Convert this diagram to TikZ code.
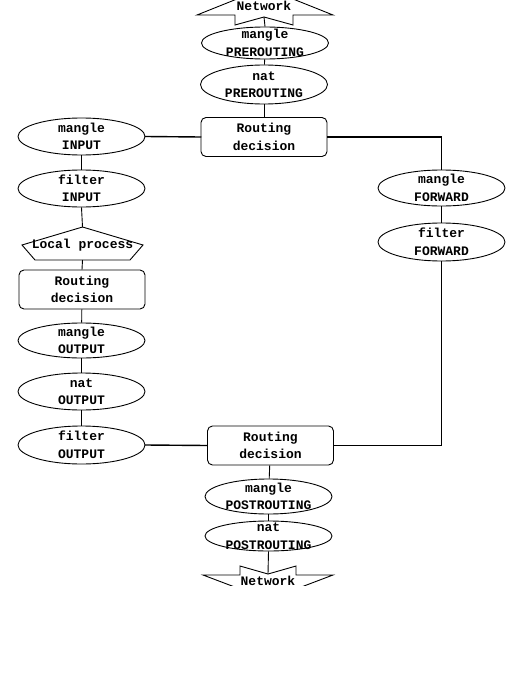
\documentclass[tikz,border=0pt]{standalone}
\usepackage{fontspec}
\setmonofont{Liberation Mono}
\usetikzlibrary{shapes.geometric}
\begin{document}
\begin{tikzpicture}[x=1pt,y=-1pt,
  font=\ttfamily\bfseries\fontsize{13}{17.5}\selectfont,
  ell/.style={draw, ellipse, inner sep=0pt, line width=0.9pt, minimum width=127pt},
  rbox/.style={draw, rounded corners=5pt, minimum width=126pt, minimum height=39pt,
               align=center, inner sep=1pt, line width=0.9pt},
  txt/.style={inner sep=0pt, align=center},
  conn/.style={line width=0.9pt},
  hconn/.style={line width=1.4pt, line cap=rect}]
\useasboundingbox (0,0) rectangle (525,685);
\begin{scope}
\clip (0,0) rectangle (525,585);

% ---- top network
\draw[conn] (237,-1) -- (197,15) -- (235,15) -- (235,25) -- (264,17) -- (293,25) -- (293,15) -- (333,15) -- (293,-1);
\node[txt] (nettop) at (264,6) {Network};
\coordinate (nettopapex) at (264,17);

% ---- prerouting chain
\node[ell, minimum height=32pt, label={[txt]center:{mangle\\PREROUTING}}] (mpre) at (265,43) {};
\node[ell, minimum height=39pt, label={[txt]center:{nat\\PREROUTING}}] (npre) at (264,84.5) {};
\node[rbox] (rtop) at (264,137) {Routing\\decision};

% ---- input / output chain
\node[ell, minimum height=37pt, label={[txt]center:{mangle\\INPUT}}] (minput) at (81.5,136.5) {};
\node[ell, minimum height=37pt, label={[txt]center:{filter\\INPUT}}] (finput) at (81.5,188.5) {};
\node[txt] (lp) at (82.5,245) {Local process};
\draw[conn] (82.5,227) -- (22,245) -- (35,260) -- (130,260) -- (143,245) -- cycle;
\coordinate (lptop) at (82.5,227);
\coordinate (lpbot) at (82.5,260);
\node[rbox] (rleft) at (82,289.5) {Routing\\decision};
\node[ell, minimum height=35pt, label={[txt]center:{mangle\\OUTPUT}}] (moutput) at (81.5,340.5) {};
\node[ell, minimum height=37pt, label={[txt]center:{nat\\OUTPUT}}] (noutput) at (81.5,391.5) {};
\node[ell, minimum height=38pt, label={[txt]center:{filter\\OUTPUT}}] (foutput) at (81.5,445) {};

% ---- forward chain
\node[ell, minimum height=36pt, label={[txt]center:{mangle\\FORWARD}}] (mfwd) at (441.5,188) {};
\node[ell, minimum height=38pt, label={[txt]center:{filter\\FORWARD}}] (ffwd) at (441.5,242) {};

% ---- postrouting chain
\node[rbox] (rbot) at (270.5,445.5) {Routing\\decision};
\node[ell, minimum height=35pt, label={[txt]center:{mangle\\POSTROUTING}}] (mpost) at (268.5,496.5) {};
\node[ell, minimum height=30pt, label={[txt]center:{nat\\POSTROUTING}}] (npost) at (268.5,536) {};

% ---- bottom network
\draw[conn] (240,589) -- (203,575) -- (240,575) -- (240,566) -- (268,574) -- (296,566) -- (296,575) -- (333,575) -- (296,589);
\node[txt] (netbot) at (268,581) {Network};
\coordinate (netbotapex) at (268,574);

% ---- connectors
\draw[conn] (nettopapex) -- (mpre.north);
\draw[conn] (mpre) -- (npre);
\draw[conn] (npre) -- (rtop);
\draw[hconn] (rtop.west) -- (minput.east);
\draw[hconn] (rtop.east) -| (mfwd.north);
\draw[conn] (minput) -- (finput);
\draw[conn] (finput.south) -- (lptop);
\draw[conn] (lpbot) -- (rleft.north);
\draw[conn] (rleft) -- (moutput);
\draw[conn] (moutput) -- (noutput);
\draw[conn] (noutput) -- (foutput);
\draw[hconn] (foutput.east) -- (rbot.west);
\draw[conn] (mfwd) -- (ffwd);
\draw[hconn] (ffwd.south) |- (rbot.east);
\draw[conn] (rbot) -- (mpost);
\draw[conn] (mpost) -- (npost);
\draw[conn] (npost.south) -- (netbotapex);
\end{scope}
\end{tikzpicture}
\end{document}
